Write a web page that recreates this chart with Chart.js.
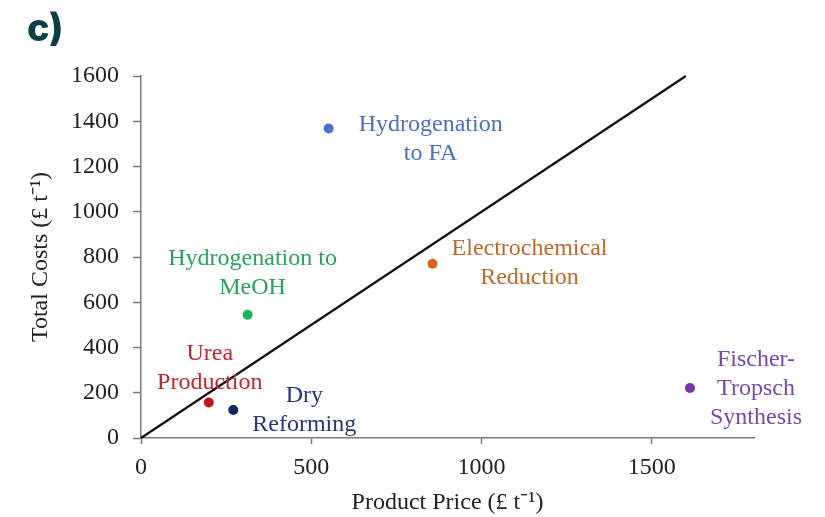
<!DOCTYPE html>
<html>
<head>
<meta charset="utf-8">
<script src="https://cdn.jsdelivr.net/npm/chart.js@4.4.1/dist/chart.umd.min.js"></script>
<style>
  body { margin:0; background:#fff; }
  #wrap { position:relative; width:825px; height:517px; }
  #panel { position:absolute; left:27px; top:2px; font-family:Inter, 'Noto Sans', sans-serif; font-weight:800; font-size:38px; color:#0c3d4b; line-height:50px; }
</style>
</head>
<body>
<div id="wrap">
  <div id="panel">c)</div>
  <canvas id="chart" width="825" height="517"></canvas>
</div>
<script>
// data
const processes = ['Hydrogenation to FA', 'Electrochemical Reduction', 'Hydrogenation to MeOH', 'Urea Production', 'Dry Reforming', 'Fischer-Tropsch Synthesis'];
const labelLines = [['Hydrogenation', 'to FA'], ['Electrochemical', 'Reduction'], ['Hydrogenation to', 'MeOH'], ['Urea', 'Production'], ['Dry', 'Reforming'], ['Fischer-', 'Tropsch', 'Synthesis']];
const productPrice = [551, 856, 313, 199, 271, 1612];
const totalCosts = [1368, 770, 545, 157, 124, 221];
const parityX = [0, 1600];
const parityY = [0, 1600];
const xTicks = [0, 500, 1000, 1500];
const yTicks = [0, 200, 400, 600, 800, 1000, 1200, 1400, 1600];

// styling
const pointColors = ['#4a73c8', '#d2691f', '#1bb35a', '#c8121c', '#15255e', '#7436ae'];
const textColors = ['#4a6fc0', '#c0682c', '#27a35c', '#c0262e', '#223878', '#7a48a6'];
// label placement relative to the marker: [dx, dy of first line]
const labelOffsets = [[102, -4], [97, -15], [5, -56], [1, -49], [71, -14], [66, -28]];
const lineGap = 29;
const serif = "'Liberation Serif', 'Times New Roman', serif";
const fontSize = 24;

const pointLabels = {
  id: 'pointLabels',
  afterDatasetsDraw(chart){
    const ctx = chart.ctx;
    const meta = chart.getDatasetMeta(1);
    ctx.save();
    ctx.font = fontSize + 'px ' + serif;
    ctx.textAlign = 'center';
    ctx.textBaseline = 'middle';
    meta.data.forEach((pt, i) => {
      ctx.fillStyle = textColors[i];
      const [dx, dy] = labelOffsets[i];
      labelLines[i].forEach((ln, k) => {
        ctx.fillText(ln, pt.x + dx, pt.y + dy + k*lineGap);
      });
    });
    ctx.restore();
  }
};

const axisCol = '#7a7a7a';

new Chart(document.getElementById('chart'), {
  type: 'scatter',
  data: {
    datasets: [
      {
        label: 'Parity',
        data: parityX.map((x, i) => ({x: x, y: parityY[i]})),
        showLine: true,
        borderColor: '#111',
        borderWidth: 2.2,
        pointRadius: 0,
        clip: false
      },
      {
        label: 'Processes',
        data: productPrice.map((x, i) => ({x: x, y: totalCosts[i]})),
        pointBackgroundColor: pointColors,
        pointBorderWidth: 0,
        pointRadius: 5
      }
    ]
  },
  options: {
    responsive: false,
    animation: false,
    layout: { padding: { left: 0, right: 71, top: 76, bottom: 0 } },
    plugins: { legend: { display: false }, tooltip: { enabled: false } },
    scales: {
      x: {
        type: 'linear',
        min: 0, max: 1800,
        afterBuildTicks: s => { s.ticks = xTicks.map(v => ({value: v})); },
        afterFit: s => { s.height = 79; },
        border: { display: true, color: axisCol, width: 1.5 },
        grid: { display: true, drawOnChartArea: false, drawTicks: true, tickLength: 6, tickColor: axisCol, tickWidth: 1.5 },
        ticks: { color: '#222', font: { family: serif, size: fontSize }, padding: 9, maxRotation: 0, callback: v => String(v) },
        title: { display: true, text: 'Product Price (£ t\u207B\u00B9)', color: '#222', font: { family: serif, size: fontSize }, padding: { top: 3, bottom: 0 } }
      },
      y: {
        type: 'linear',
        min: 0, max: 1600,
        afterBuildTicks: s => { s.ticks = yTicks.map(v => ({value: v})); },
        afterFit: s => { s.width = 141; },
        border: { display: true, color: axisCol, width: 1.5 },
        grid: { display: true, drawOnChartArea: false, drawTicks: true, tickLength: 8, tickColor: axisCol, tickWidth: 1.5 },
        ticks: { color: '#222', font: { family: serif, size: fontSize }, padding: 14, callback: v => String(v) },
        title: { display: true, text: 'Total Costs (£ t\u207B\u00B9)', color: '#222', font: { family: serif, size: fontSize }, padding: { top: 26, bottom: 0 } }
      }
    }
  },
  plugins: [pointLabels]
});
</script>
</body>
</html>
